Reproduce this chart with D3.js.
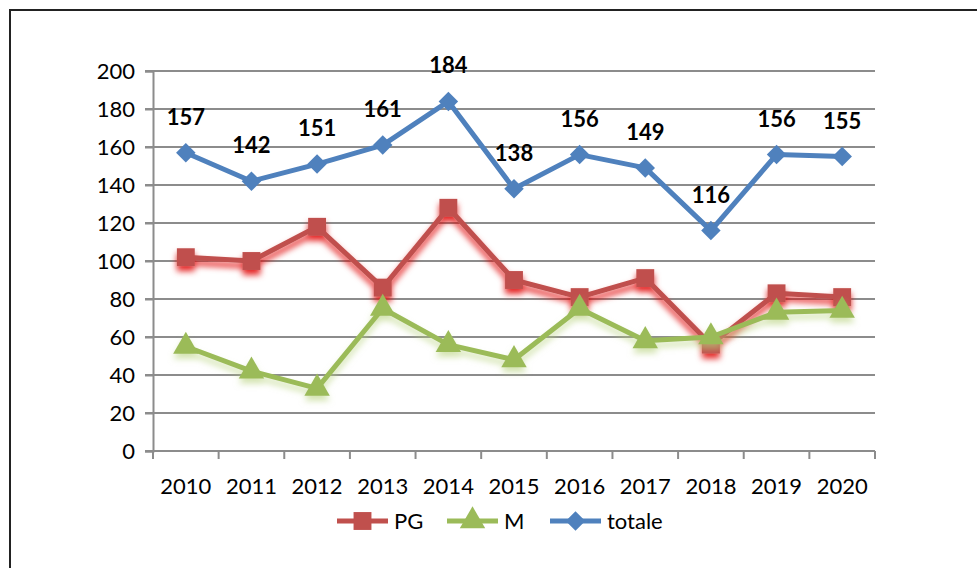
<!DOCTYPE html>
<html>
<head>
<meta charset="utf-8">
<script src="https://cdn.jsdelivr.net/npm/d3@7"></script>
<style>
  body { margin: 0; background: #fff; }
  svg { display: block; font-family: Lato, "Open Sans", sans-serif; }
</style>
</head>
<body>
<svg id="chart" width="977" height="568"></svg>
<script>
const years = ['2010', '2011', '2012', '2013', '2014', '2015', '2016', '2017', '2018', '2019', '2020'];
const pg = [102, 100, 118, 86, 128, 90, 81, 91, 56, 83, 81];
const m = [55, 42, 33, 75, 56, 48, 75, 58, 60, 73, 74];
const totale = [157, 142, 151, 161, 184, 138, 156, 149, 116, 156, 155];
const yTicks = [0, 20, 40, 60, 80, 100, 120, 140, 160, 180, 200];

const svg = d3.select('#chart');
const margin = { top: 71, left: 153, right: 102, bottom: 117 };
const width = 977 - margin.left - margin.right;
const height = 568 - margin.top - margin.bottom;
const fs = 22;

// outer frame (runs off the right and bottom edges)
svg.append('rect')
  .attr('x', 10).attr('y', 10)
  .attr('width', 1000).attr('height', 600)
  .attr('fill', 'none').attr('stroke', '#222').attr('stroke-width', 2);

const defs = svg.append('defs');
function glow(id, color, op) {
  const f = defs.append('filter').attr('id', id)
    .attr('x', '-20%').attr('y', '-20%').attr('width', '140%').attr('height', '150%');
  f.append('feDropShadow').attr('dx', 0).attr('dy', 5).attr('stdDeviation', 3)
    .attr('flood-color', color).attr('flood-opacity', op);
}
glow('shadowRed', '#e00000', 0.85);
glow('shadowGreen', '#b5d07a', 0.6);

const g = svg.append('g').attr('transform', `translate(${margin.left},${margin.top})`);

const x = d3.scaleBand().domain(years).range([0, width]);
const y = d3.scaleLinear().domain([0, 200]).range([height, 0]);

// gridlines
g.append('g').selectAll('line').data(yTicks.filter(d => d > 0)).join('line')
  .attr('x1', -8).attr('x2', width)
  .attr('y1', d => y(d)).attr('y2', d => y(d))
  .attr('stroke', '#8c8c8c').attr('stroke-width', 2);

// y axis
const yAxis = g.append('g').call(d3.axisLeft(y).tickValues(yTicks).tickSize(8).tickPadding(10));
yAxis.select('.domain').attr('stroke', '#8c8c8c').attr('stroke-width', 2);
yAxis.selectAll('line').attr('stroke', '#8c8c8c').attr('stroke-width', 2);
yAxis.selectAll('text').attr('font-size', fs).attr('fill', '#000').attr('font-family', 'Lato, sans-serif');

// x axis
const xAxisG = g.append('g').attr('transform', `translate(0,${height})`)
  .call(d3.axisBottom(x).tickSize(0).tickPadding(27));
xAxisG.select('.domain').remove();
xAxisG.selectAll('text').attr('font-size', fs).attr('fill', '#000').attr('font-family', 'Lato, sans-serif');
xAxisG.append('line').attr('x1', -8).attr('x2', width).attr('stroke', '#8c8c8c').attr('stroke-width', 2);
xAxisG.selectAll('.cat').data(d3.range(years.length + 1)).join('line')
  .attr('x1', i => i * x.bandwidth()).attr('x2', i => i * x.bandwidth())
  .attr('y1', 0).attr('y2', 8).attr('stroke', '#8c8c8c').attr('stroke-width', 2);

const cx = i => x(years[i]) + x.bandwidth() / 2;

const series = [
  { name: 'PG', values: pg, color: '#c0504d', marker: 'square', filter: 'url(#shadowRed)' },
  { name: 'M', values: m, color: '#9bbb59', marker: 'triangle', filter: 'url(#shadowGreen)' },
  { name: 'totale', values: totale, color: '#4f81bd', marker: 'diamond', filter: null }
];

const symbols = {
  square: d3.symbol().type(d3.symbolSquare).size(320),
  triangle: d3.symbol().type(d3.symbolTriangle).size(280),
  diamond: d3.symbol().type(d3.symbolSquare).size(190)
};

const line = d3.line().x((d, i) => cx(i)).y(d => y(d));

series.forEach(s => {
  const sg = g.append('g').attr('filter', s.filter);
  sg.append('path').datum(s.values)
    .attr('d', line)
    .attr('fill', 'none').attr('stroke', s.color).attr('stroke-width', 5)
    .attr('stroke-linejoin', 'round');
  sg.selectAll('path.mk').data(s.values).join('path').attr('class', 'mk')
    .attr('d', symbols[s.marker])
    .attr('transform', (d, i) => `translate(${cx(i)},${y(d)})` + (s.marker === 'diamond' ? ' rotate(45)' : ''))
    .attr('fill', s.color);
});

// data labels for totale
g.append('g').selectAll('text').data(totale).join('text')
  .attr('x', (d, i) => cx(i))
  .attr('y', d => y(d) - 28)
  .attr('text-anchor', 'middle')
  .attr('font-size', fs).attr('font-weight', 'bold')
  .attr('font-family', 'Lato, sans-serif')
  .text(d => d);

// legend
const legend = svg.append('g').attr('transform', 'translate(0,521)');
const legendX = [337, 447, 550];
series.forEach((s, i) => {
  const lg = legend.append('g').attr('transform', `translate(${legendX[i]},0)`);
  lg.append('line').attr('x1', 0).attr('x2', 51).attr('stroke', s.color).attr('stroke-width', 5);
  lg.append('path').attr('d', symbols[s.marker])
    .attr('transform', `translate(25.5,0)` + (s.marker === 'diamond' ? ' rotate(45)' : ''))
    .attr('fill', s.color);
  lg.append('text').attr('x', 57).attr('y', 8)
    .attr('font-size', fs).attr('font-family', 'Lato, sans-serif')
    .text(s.name);
});
</script>
</body>
</html>
